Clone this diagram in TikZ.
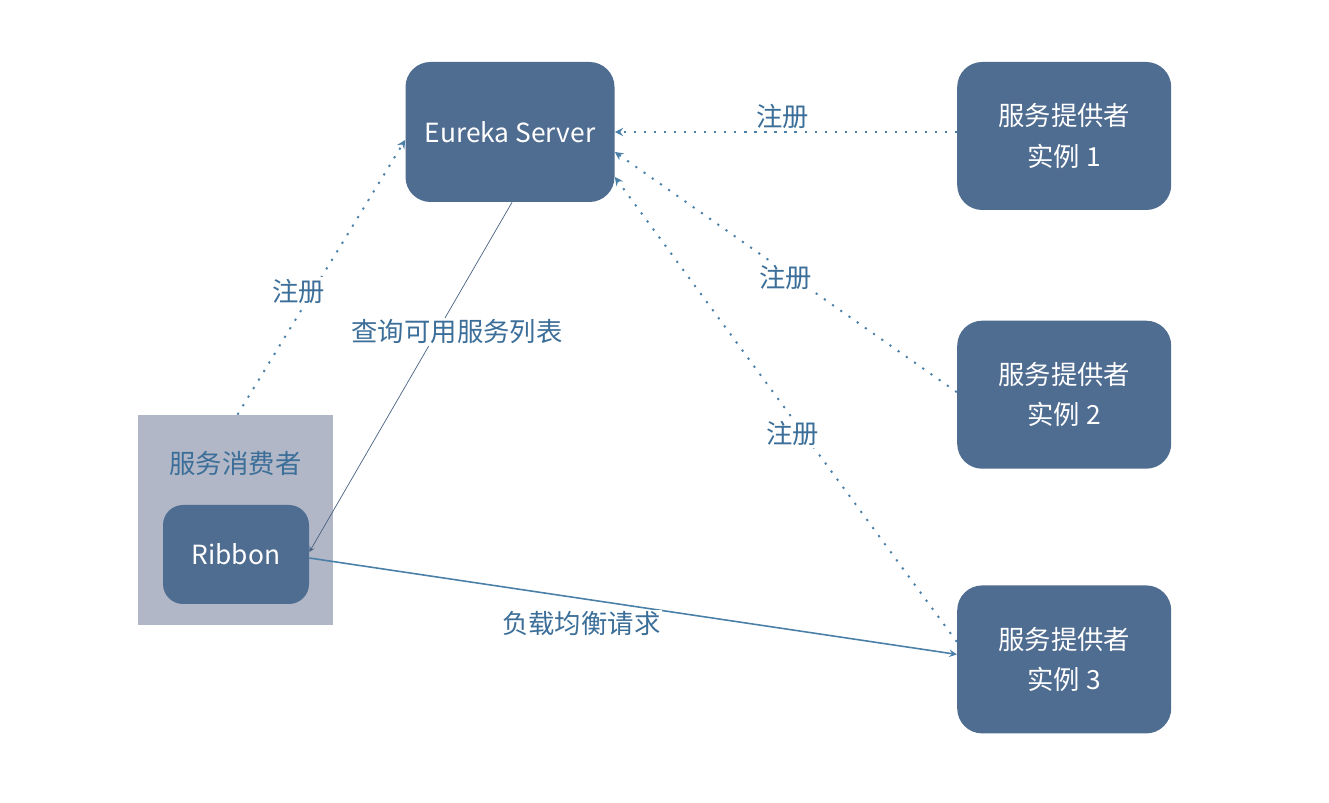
\documentclass[tikz,border=0pt]{standalone}
\usepackage{fontspec}
\setmainfont{Noto Sans CJK SC}
\usepackage{tikz}
\usetikzlibrary{arrows,positioning}

\definecolor{nodeblue}{HTML}{4F6C91}
\definecolor{consgray}{HTML}{B1B7C6}
\definecolor{textblue}{HTML}{3B6E98}
\definecolor{lineblue}{HTML}{4A7FA8}

\begin{document}
\begin{tikzpicture}[
    font=\fontsize{15pt}{23pt}\selectfont,
    box/.style={rectangle, rounded corners=0.5cm, fill=nodeblue, text=white, align=center},
    server/.style={box, minimum width=4.18cm, minimum height=2.8cm},
    provider/.style={box, minimum width=4.28cm, minimum height=2.96cm},
    regline/.style={->, >=stealth, dash pattern=on 1.2pt off 4.5pt, line width=1.1pt, lineblue},
    arrow/.style={->, >=stealth, thin},
    lbl/.style={text=textblue, fill=white, inner sep=1pt}
]
\useasboundingbox (0,0) rectangle (26.58,-16.06);

% Eureka server
\node[server] (eureka) at (10.2,-2.64) {Eureka Server};

% Three providers
\node[provider, right=6.84cm of eureka, yshift=-0.08cm] (prov1) {服务提供者\\实例 1};
\node[provider, below=2.2cm of prov1] (prov2) {服务提供者\\实例 2};
\node[provider, below=2.32cm of prov2] (prov3) {服务提供者\\实例 3};

% Consumer with Ribbon
\node[rectangle, fill=consgray, minimum width=3.9cm, minimum height=4.2cm] (consumer) at (4.71,-10.4) {};
\node[text=textblue, below=0.6cm of consumer.north] (cname) {服务消费者};
\node[box, rounded corners=0.4cm, minimum width=2.92cm, minimum height=1.98cm] (ribbon) at (4.72,-11.09) {Ribbon};

% Register
\draw[regline] ([yshift=0.08cm]prov1.west) -- node[lbl, pos=0.51, yshift=0.3cm] (reg1) {注册} (eureka.east);
\draw[regline] ([yshift=0.05cm]prov2.west) -- node[lbl, pos=0.5, yshift=-0.1cm] (reg2) {注册} ([yshift=-0.4cm]eureka.east);
\draw[regline] ([yshift=0.35cm]prov3.west) -- node[lbl, pos=0.48, yshift=-0.3cm] (reg3) {注册} ([yshift=-0.9cm]eureka.east);
\draw[regline] ([xshift=0.04cm]consumer.north) -- node[lbl, left=0.05cm, pos=0.45, xshift=0.35cm] (reg4) {注册} ([yshift=-0.16cm]eureka.west);

% Query
\draw[arrow, draw=nodeblue!90!black] ([xshift=0.04cm]eureka.south) -- node[lbl, pos=0.37, xshift=0.4cm] (query) {查询可用服务列表} ([yshift=0.05cm]ribbon.east);

% Load balance
\draw[arrow, line width=0.9pt, lineblue] ([yshift=-0.07cm]ribbon.east) -- node[lbl, pos=0.42, yshift=-0.5cm] (lb) {负载均衡请求} ([yshift=0.1cm]prov3.west);

\end{tikzpicture}
\end{document}
